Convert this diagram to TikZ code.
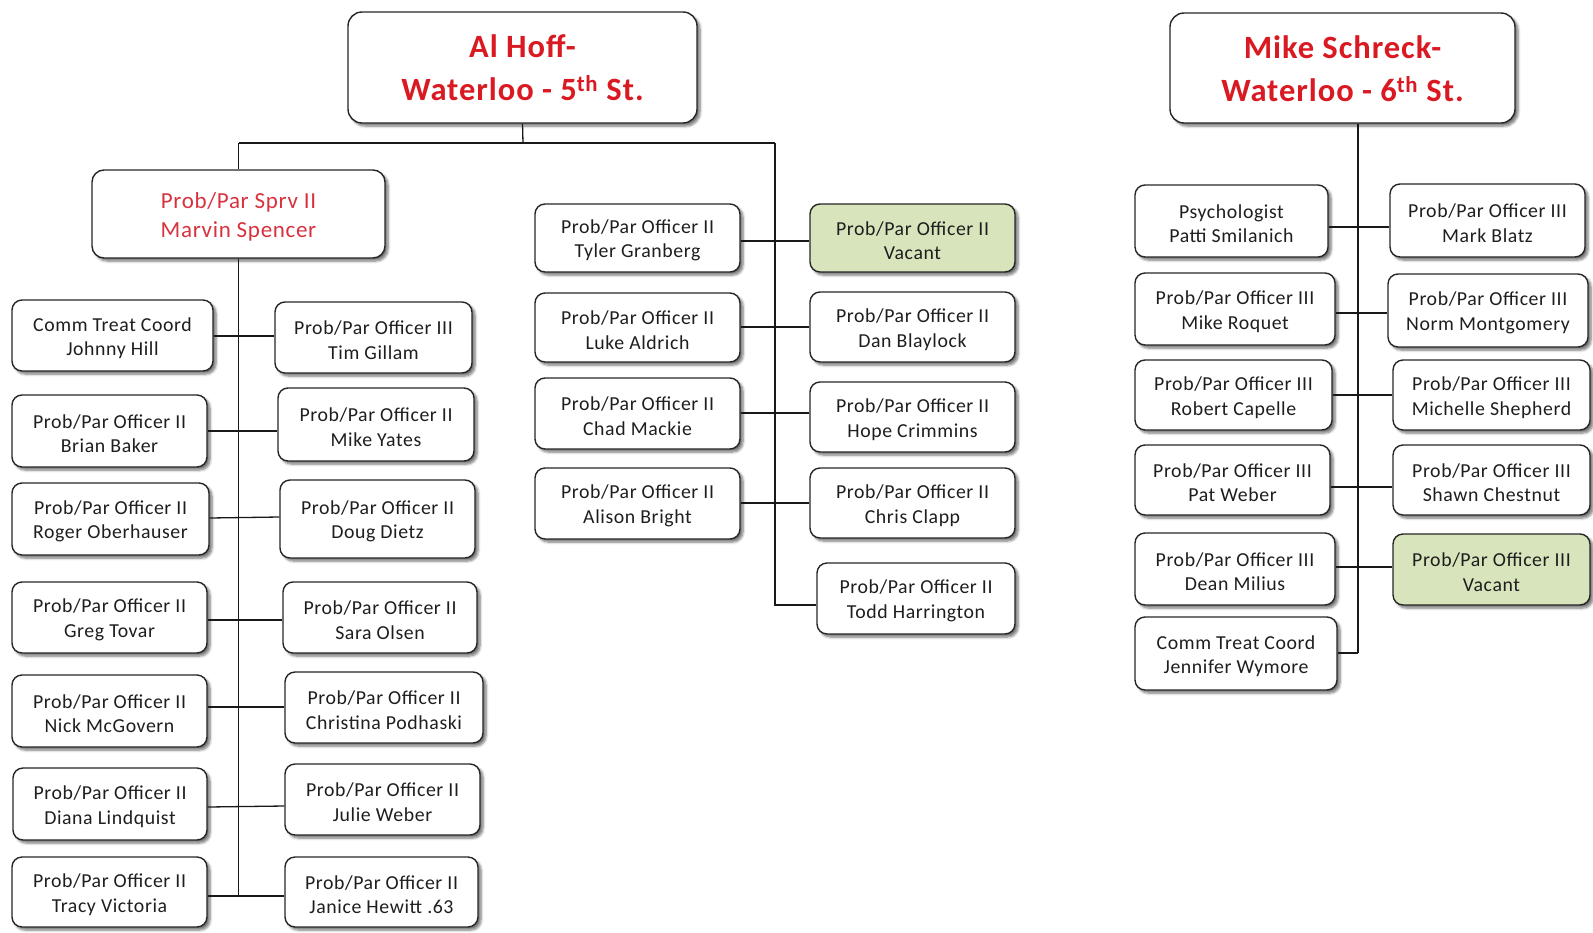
\documentclass[tikz,border=0pt]{standalone}
\usepackage{fontspec}
\setmainfont{Carlito}[LetterSpace=3]
\usetikzlibrary{shadows.blur}
\definecolor{headred}{HTML}{DA1A22}
\definecolor{sprvred}{HTML}{D8323E}
\definecolor{vacantgreen}{HTML}{D8E4BC}
\definecolor{inkgrey}{HTML}{1E1E1E}
\tikzset{
  % frames
  box/.style={draw=black!85, line width=1.4pt, rounded corners=10pt, fill=white,
    inner sep=0pt,
    blur shadow={shadow xshift=3pt, shadow yshift=-3pt, shadow blur steps=6,
      shadow blur radius=2.5pt, shadow opacity=55}},
  vacant/.style={box, fill=vacantgreen},
  head/.style={box, rounded corners=14pt},
  sprv/.style={box, rounded corners=12pt},
  % captions placed inside the frames
  boxtxt/.style={align=center, inner sep=0pt, text=inkgrey, yshift=-2.5pt,
    font=\fontsize{19.8}{24.5}\selectfont},
  vacanttxt/.style={boxtxt},
  headtxt/.style={align=center, inner sep=0pt, text=headred, yshift=-0.5pt,
    font=\fontsize{32.5}{43}\selectfont\bfseries},
  sprvtxt/.style={align=center, inner sep=0pt, text=sprvred, yshift=-3pt,
    font=\fontsize{23}{29.5}\selectfont},
  link/.style={draw=black!90, line width=1.3pt}
}
% #1 style, #2 name, #3 left, #4 top, #5 right, #6 bottom, #7 text
\newcommand{\orgbox}[7]{%
  \node[#1, minimum width={(#5-#3)*1pt}, minimum height={(#6-#4)*1pt}]
    (#2) at ({(#3+#5)/2},{(#4+#6)/2}) {};
  \node[#1txt] (#2-text) at (#2.center) {#7};}
\begin{document}
\begin{tikzpicture}[x=1pt, y=-1pt]
\useasboundingbox (0,0) rectangle (1593,932);

% ---------- 5th Street office ----------
\orgbox{head}{hoff}{348}{12}{697}{123}{Al Hoff-\\Waterloo - 5\textsuperscript{th} St.}
\orgbox{sprv}{sprv}{92}{170}{385}{258}{Prob/Par Sprv II\\Marvin Spencer}

\orgbox{box}{johnny}{12}{300}{213}{371}{Comm Treat Coord\\Johnny Hill}
\orgbox{box}{tim}{275}{302}{472}{373}{Prob/Par Officer III\\Tim Gillam}
\orgbox{box}{brian}{12}{395}{207}{467}{Prob/Par Officer II\\Brian Baker}
\orgbox{box}{yates}{278}{388}{474}{461}{Prob/Par Officer II\\Mike Yates}
\orgbox{box}{roger}{12}{483}{209}{555}{Prob/Par Officer II\\Roger Oberhauser}
\orgbox{box}{dietz}{280}{480}{475}{558}{Prob/Par Officer II\\Doug Dietz}
\orgbox{box}{greg}{12}{582}{207}{653}{Prob/Par Officer II\\Greg Tovar}
\orgbox{box}{sara}{283}{582}{477}{653}{Prob/Par Officer II\\Sara Olsen}
\orgbox{box}{nick}{12}{675}{207}{747}{Prob/Par Officer II\\Nick McGovern}
\orgbox{box}{christina}{285}{672}{483}{743}{Prob/Par Officer II\\Christina Podhaski}
\orgbox{box}{diana}{13}{768}{207}{840}{Prob/Par Officer II\\Diana Lindquist}
\orgbox{box}{julie}{285}{764}{480}{835}{Prob/Par Officer II\\Julie Weber}
\orgbox{box}{tracy}{12}{857}{207}{927}{Prob/Par Officer II\\Tracy Victoria}
\orgbox{box}{janice}{285}{857}{478}{927}{Prob/Par Officer II\\Janice Hewitt .63}

\orgbox{box}{tyler}{535}{204}{740}{272}{Prob/Par Officer II\\Tyler Granberg}
\orgbox{vacant}{vacantA}{810}{204}{1015}{272}{Prob/Par Officer II\\Vacant}
\orgbox{box}{luke}{535}{293}{740}{362}{Prob/Par Officer II\\Luke Aldrich}
\orgbox{box}{dan}{810}{292}{1015}{362}{Prob/Par Officer II\\Dan Blaylock}
\orgbox{box}{chad}{535}{378}{740}{449}{Prob/Par Officer II\\Chad Mackie}
\orgbox{box}{hope}{810}{382}{1015}{452}{Prob/Par Officer II\\Hope Crimmins}
\orgbox{box}{alison}{535}{468}{740}{539}{Prob/Par Officer II\\Alison Bright}
\orgbox{box}{chris}{810}{468}{1015}{538}{Prob/Par Officer II\\Chris Clapp}
\orgbox{box}{todd}{817}{563}{1015}{634}{Prob/Par Officer II\\Todd Harrington}

% trunk and branches
\coordinate (bus) at (523,143);
\draw[link] (hoff.south) -- (bus);
\draw[link] (sprv.north |- bus) -- (775,143) coordinate (busR);
\draw[link] (sprv.north |- bus) -- (sprv.north);
\draw[link] (sprv.south) -- (sprv.south |- 0,896);
\draw[link] (busR) -- (busR |- 0,605) -- (todd.west |- 0,605);

\draw[link] (johnny.east |- 0,336) -- (tim.west |- 0,336);
\draw[link] (brian.east |- 0,431) -- (yates.west |- 0,431);
\draw[link] (roger.east |- 0,518) -- (dietz.west |- 0,517);
\draw[link] (greg.east |- 0,620) -- (sara.west |- 0,620);
\draw[link] (nick.east |- 0,707) -- (christina.west |- 0,707);
\draw[link] (diana.east |- 0,807) -- (julie.west |- 0,806);
\draw[link] (tracy.east |- 0,896) -- (janice.west |- 0,896);

\draw[link] (tyler.east |- 0,241) -- (vacantA.west |- 0,241);
\draw[link] (luke.east |- 0,327) -- (dan.west |- 0,327);
\draw[link] (chad.east |- 0,413) -- (hope.west |- 0,413);
\draw[link] (alison.east |- 0,503) -- (chris.west |- 0,503);

% ---------- 6th Street office ----------
\orgbox{head}{schreck}{1170}{13}{1515}{123}{Mike Schreck-\\Waterloo - 6\textsuperscript{th} St.}

\orgbox{box}{psych}{1135}{185}{1328}{257}{Psychologist\\Patti Smilanich}
\orgbox{box}{blatz}{1390}{184}{1585}{257}{Prob/Par Officer III\\Mark Blatz}
\orgbox{box}{roquet}{1135}{273}{1335}{345}{Prob/Par Officer III\\Mike Roquet}
\orgbox{box}{norm}{1388}{274}{1588}{347}{Prob/Par Officer III\\Norm Montgomery}
\orgbox{box}{capelle}{1135}{360}{1332}{430}{Prob/Par Officer III\\Robert Capelle}
\orgbox{box}{michelle}{1393}{360}{1590}{430}{Prob/Par Officer III\\Michelle Shepherd}
\orgbox{box}{pat}{1135}{445}{1330}{515}{Prob/Par Officer III\\Pat Weber}
\orgbox{box}{shawn}{1393}{445}{1590}{515}{Prob/Par Officer III\\Shawn Chestnut}
\orgbox{box}{dean}{1135}{533}{1335}{605}{Prob/Par Officer III\\Dean Milius}
\orgbox{vacant}{vacantB}{1393}{534}{1590}{605}{Prob/Par Officer III\\Vacant}
\orgbox{box}{jennifer}{1135}{617}{1337}{690}{Comm Treat Coord\\Jennifer Wymore}

\draw[link] (schreck.south -| 1358,0) -- (1358,653) coordinate (trunkB);
\draw[link] (trunkB) -- (jennifer.east |- trunkB);
\draw[link] (psych.east |- 0,227) -- (blatz.west |- 0,227);
\draw[link] (roquet.east |- 0,313) -- (norm.west |- 0,313);
\draw[link] (capelle.east |- 0,395) -- (michelle.west |- 0,395);
\draw[link] (pat.east |- 0,487) -- (shawn.west |- 0,487);
\draw[link] (dean.east |- 0,567) -- (vacantB.west |- 0,567);
\end{tikzpicture}
\end{document}
